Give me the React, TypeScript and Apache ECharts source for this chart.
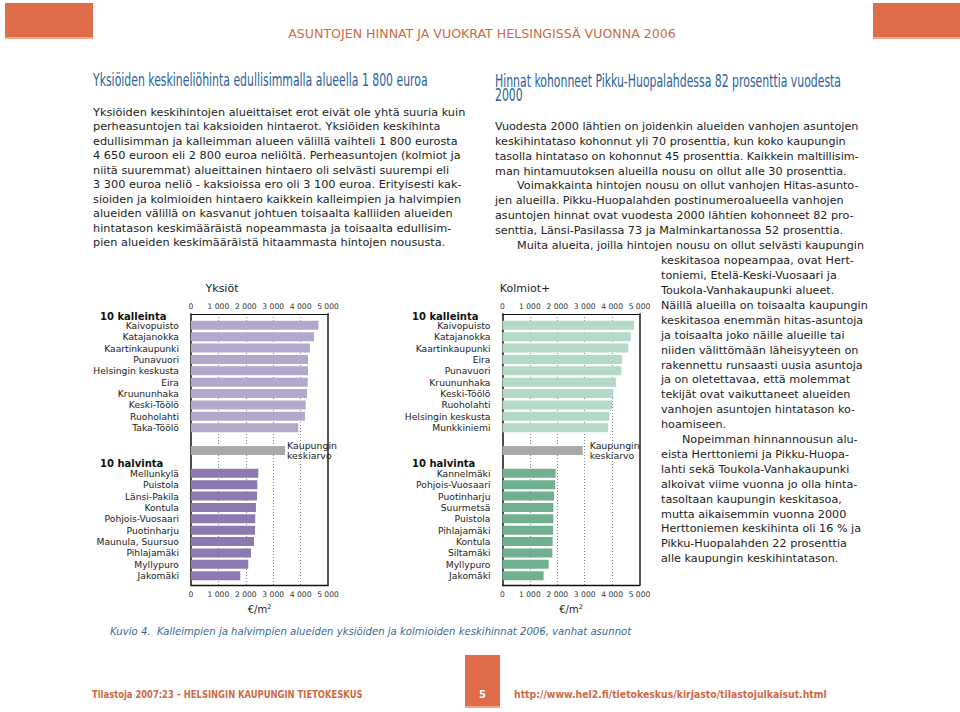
import React, { useEffect, useRef } from 'react';
import * as echarts from 'echarts';

// ---------- DATA ----------
const yksiotKalleinNames = ['Kaivopuisto', 'Katajanokka', 'Kaartinkaupunki', 'Punavuori', 'Helsingin keskusta', 'Eira', 'Kruununhaka', 'Keski-Töölö', 'Ruoholahti', 'Taka-Töölö'];
const yksiotKalleinValues = [4650, 4490, 4340, 4270, 4270, 4260, 4235, 4185, 4160, 3915];
const yksiotHalvinNames = ['Mellunkylä', 'Puistola', 'Länsi-Pakila', 'Kontula', 'Pohjois-Vuosaari', 'Puotinharju', 'Maunula, Suursuo', 'Pihlajamäki', 'Myllypuro', 'Jakomäki'];
const yksiotHalvinValues = [2455, 2420, 2410, 2370, 2345, 2335, 2300, 2190, 2090, 1800];
const yksiotKeskiarvo = 3430;

const kolmiotKalleinNames = ['Kaivopuisto', 'Katajanokka', 'Kaartinkaupunki', 'Eira', 'Punavuori', 'Kruununhaka', 'Keski-Töölö', 'Ruoholahti', 'Helsingin keskusta', 'Munkkiniemi'];
const kolmiotKalleinValues = [4800, 4680, 4590, 4360, 4335, 4140, 4045, 3995, 3900, 3850];
const kolmiotHalvinNames = ['Kannelmäki', 'Pohjois-Vuosaari', 'Puotinharju', 'Suurmetsä', 'Puistola', 'Pihlajamäki', 'Kontula', 'Siltamäki', 'Myllypuro', 'Jakomäki'];
const kolmiotHalvinValues = [1940, 1925, 1880, 1855, 1855, 1845, 1830, 1820, 1685, 1500];
const kolmiotKeskiarvo = 2925;

const axisMin = 0;
const axisMax = 5000;
const axisInterval = 1000;
const avgLabel = 'Kaupungin\nkeskiarvo';
const headerKallein = '10 kalleinta';
const headerHalvin = '10 halvinta';
const unitName = '€/m{s|2}';

const pageTitle = 'ASUNTOJEN HINNAT JA VUOKRAT HELSINGISSÄ VUONNA 2006';
const leftHeading = 'Yksiöiden keskineliöhinta edullisimmalla alueella 1 800 euroa';
const rightHeading = ['Hinnat kohonneet Pikku-Huopalahdessa 82 prosenttia vuodesta', '2000'];
const leftParagraph = [
  'Yksiöiden keskihintojen alueittaiset erot eivät ole yhtä suuria kuin',
  'perheasuntojen tai kaksioiden hintaerot. Yksiöiden keskihinta',
  'edullisimman ja kalleimman alueen välillä vaihteli 1 800 eurosta',
  '4 650 euroon eli 2 800 euroa neliöltä. Perheasuntojen (kolmiot ja',
  'niitä suuremmat) alueittainen hintaero oli selvästi suurempi eli',
  '3 300 euroa neliö - kaksioissa ero oli 3 100 euroa. Erityisesti kak-',
  'sioiden ja kolmioiden hintaero kaikkein kalleimpien ja halvimpien',
  'alueiden välillä on kasvanut johtuen toisaalta kalliiden alueiden',
  'hintatason keskimääräistä nopeammasta ja toisaalta edullisim-',
  'pien alueiden keskimääräistä hitaammasta hintojen noususta.',
];
const rightParagraph1 = [
  'Vuodesta 2000 lähtien on joidenkin alueiden vanhojen asuntojen',
  'keskihintataso kohonnut yli 70 prosenttia, kun koko kaupungin',
  'tasolla hintataso on kohonnut 45 prosenttia. Kaikkein maltillisim-',
  'man hintamuutoksen alueilla nousu on ollut alle 30 prosenttia.',
  'Voimakkainta hintojen nousu on ollut vanhojen Hitas-asunto-',
  'jen alueilla. Pikku-Huopalahden postinumeroalueella vanhojen',
  'asuntojen hinnat ovat vuodesta 2000 lähtien kohonneet 82 pro-',
  'senttia, Länsi-Pasilassa 73 ja Malminkartanossa 52 prosenttia.',
  'Muita alueita, joilla hintojen nousu on ollut selvästi kaupungin',
];
const rightParagraph1Indents = [4, 8];
const rightParagraph2 = [
  'keskitasoa nopeampaa, ovat Hert-',
  'toniemi, Etelä-Keski-Vuosaari ja',
  'Toukola-Vanhakaupunki alueet.',
  'Näillä alueilla on toisaalta kaupungin',
  'keskitasoa enemmän hitas-asuntoja',
  'ja toisaalta joko näille alueille tai',
  'niiden välittömään läheisyyteen on',
  'rakennettu runsaasti uusia asuntoja',
  'ja on oletettavaa, että molemmat',
  'tekijät ovat vaikuttaneet alueiden',
  'vanhojen asuntojen hintatason ko-',
  'hoamiseen.',
  'Nopeimman hinnannousun alu-',
  'eista Herttoniemi ja Pikku-Huopa-',
  'lahti sekä Toukola-Vanhakaupunki',
  'alkoivat viime vuonna jo olla hinta-',
  'tasoltaan kaupungin keskitasoa,',
  'mutta aikaisemmin vuonna 2000',
  'Herttoniemen keskihinta oli 16 % ja',
  'Pikku-Huopalahden 22 prosenttia',
  'alle kaupungin keskihintatason.',
];
const rightParagraph2Indents = [12];
const caption = 'Kuvio 4.  Kalleimpien ja halvimpien alueiden yksiöiden ja kolmioiden keskihinnat 2006, vanhat asunnot';
const footerLeft = 'Tilastoja 2007:23 – HELSINGIN KAUPUNGIN TIETOKESKUS';
const footerPage = '5';
const footerUrl = 'http://www.hel2.fi/tietokeskus/kirjasto/tilastojulkaisut.html';

// ---------- STYLE ----------
const SANS = '"DejaVu Sans", Verdana, sans-serif';
const NARROW = '"Liberation Sans Narrow", "DejaVu Sans Condensed", sans-serif';
const ORANGE = '#e06d4a';
const ORANGE_TEXT = '#cf6a47';
const BLUE = '#2a62a0';

const tickFmt = (v: number) => (v === 0 ? '0' : `${v / 1000} 000`);

type Panel = {
  left: number;
  width: number;
  title: string;
  titleX: number;
  headerX: number;
  kalleinNames: string[];
  kalleinValues: number[];
  halvinNames: string[];
  halvinValues: number[];
  keskiarvo: number;
  topColor: string;
  bottomColor: string;
  avgDist: number;
};

const panels: Panel[] = [
  {
    left: 191, width: 137, title: 'Yksiöt', titleX: 222, headerX: 100,
    kalleinNames: yksiotKalleinNames, kalleinValues: yksiotKalleinValues,
    halvinNames: yksiotHalvinNames, halvinValues: yksiotHalvinValues,
    keskiarvo: yksiotKeskiarvo, topColor: '#b1a8cb', bottomColor: '#8c79b0', avgDist: 2,
  },
  {
    left: 502.5, width: 137, title: 'Kolmiot+', titleX: 525, headerX: 412,
    kalleinNames: kolmiotKalleinNames, kalleinValues: kolmiotKalleinValues,
    halvinNames: kolmiotHalvinNames, halvinValues: kolmiotHalvinValues,
    keskiarvo: kolmiotKeskiarvo, topColor: '#b3d9c7', bottomColor: '#71b08f', avgDist: 7,
  },
];

function buildOption() {
  const grid: any[] = [];
  const xAxis: any[] = [];
  const yAxis: any[] = [];
  const series: any[] = [];
  const graphic: any[] = [];

  const frameTop = 314;
  const frameH = 271;
  const barsTop = 319.6;
  const barsH = 261.8;

  panels.forEach((p, i) => {
    const gFrame = 2 * i;
    const gBars = 2 * i + 1;
    grid.push({ left: p.left, top: frameTop, width: p.width, height: frameH });
    grid.push({ left: p.left, top: barsTop, width: p.width, height: barsH });

    const valueBase = { type: 'value', min: axisMin, max: axisMax, interval: axisInterval };
    xAxis.push({
      ...valueBase, gridIndex: gFrame, position: 'bottom',
      axisLine: { show: true, onZero: false, lineStyle: { color: '#111', width: 1.3 } },
      axisTick: { show: false },
      axisLabel: { fontSize: 7.6, fontFamily: SANS, color: '#333', margin: 5, formatter: tickFmt },
      splitLine: {
        show: true,
        lineStyle: { type: [1, 2], width: 1, color: ['rgba(0,0,0,0)', '#888', '#888', '#888', '#888', 'rgba(0,0,0,0)'] },
      },
      name: unitName, nameLocation: 'middle', nameGap: 18,
      nameTextStyle: { fontSize: 10, fontFamily: SANS, color: '#222', rich: { s: { fontSize: 6.5, fontFamily: SANS, verticalAlign: 'top', padding: [0, 0, 5, 0] } } },
    });
    xAxis.push({
      ...valueBase, gridIndex: gFrame, position: 'top',
      axisLine: { show: true, onZero: false, lineStyle: { color: '#111', width: 1 } },
      axisTick: { show: false },
      axisLabel: { fontSize: 7.6, fontFamily: SANS, color: '#333', margin: 4, formatter: tickFmt },
      splitLine: { show: false },
    });
    xAxis.push({ ...valueBase, gridIndex: gBars, show: false, splitLine: { show: false } });

    yAxis.push({
      type: 'value', min: 0, max: 1, gridIndex: gFrame, position: 'left',
      axisLine: { show: true, onZero: false, lineStyle: { color: '#111', width: 1.5 } },
      axisTick: { show: false }, axisLabel: { show: false }, splitLine: { show: false },
    });
    yAxis.push({
      type: 'value', min: 0, max: 1, gridIndex: gFrame, position: 'right',
      axisLine: { show: true, onZero: false, lineStyle: { color: '#555', width: 2 } },
      axisTick: { show: false }, axisLabel: { show: false }, splitLine: { show: false },
    });
    const cats = [...p.kalleinNames, ' ', '  ', '   ', ...p.halvinNames];
    yAxis.push({
      type: 'category', gridIndex: gBars, inverse: true, data: cats,
      axisLine: { show: false }, axisTick: { show: false },
      axisLabel: { interval: 0, fontSize: 9.2, fontFamily: SANS, color: '#222', margin: 12 },
      splitLine: { show: false },
    });

    const data: any[] = [
      ...p.kalleinValues.map((v) => ({ value: v, itemStyle: { color: p.topColor } })),
      '-',
      {
        value: p.keskiarvo,
        itemStyle: { color: '#a9a9a9' },
        label: {
          show: true, position: 'right', distance: p.avgDist, formatter: avgLabel,
          fontSize: 9.4, lineHeight: 10.5, fontFamily: SANS, color: '#222', align: 'left',
        },
      },
      '-',
      ...p.halvinValues.map((v) => ({ value: v, itemStyle: { color: p.bottomColor } })),
    ];
    series.push({
      type: 'bar', xAxisIndex: 3 * i + 2, yAxisIndex: 3 * i + 2,
      barWidth: 9, data, z: 3,
    });

    graphic.push({
      type: 'text', x: p.titleX, y: 288,
      style: { text: p.title, fontSize: 11, fontFamily: SANS, fill: '#222', align: 'center', verticalAlign: 'middle' },
    });
    graphic.push({
      type: 'text', x: p.headerX, y: 316,
      style: { text: headerKallein, fontSize: 10, fontWeight: 'bold', fontFamily: SANS, fill: '#111', align: 'left', verticalAlign: 'middle' },
    });
    graphic.push({
      type: 'text', x: p.headerX, y: 463,
      style: { text: headerHalvin, fontSize: 10, fontWeight: 'bold', fontFamily: SANS, fill: '#111', align: 'left', verticalAlign: 'middle' },
    });
  });

  const bodyText = (text: string, x: number, y: number, size: number) => ({
    type: 'text', x, y, silent: true,
    style: { text, fontSize: size, fontFamily: SANS, fill: '#222', align: 'left', verticalAlign: 'middle' },
  });

  leftParagraph.forEach((t, k) => graphic.push(bodyText(t, 93, 112.3 + k * 14.5, 11.3)));
  rightParagraph1.forEach((t, k) =>
    graphic.push(bodyText(t, rightParagraph1Indents.includes(k) ? 517 : 495, 126.7 + k * 14.8, 11.2)));
  rightParagraph2.forEach((t, k) =>
    graphic.push(bodyText(t, rightParagraph2Indents.includes(k) ? 682 : 661, 260.7 + k * 14.9, 11.2)));

  // headings
  graphic.push({
    type: 'text', x: 93, y: 80, scaleY: 1.4,
    style: { text: leftHeading, fontSize: 12.1, fontFamily: NARROW, fill: BLUE, align: 'left', verticalAlign: 'middle' },
  });
  rightHeading.forEach((t, k) => graphic.push({
    type: 'text', x: 495, y: 80.7 + k * 14, scaleY: 1.4,
    style: { text: t, fontSize: 12.1, fontFamily: NARROW, fill: BLUE, align: 'left', verticalAlign: 'middle' },
  }));

  // page decoration
  graphic.push({ type: 'rect', shape: { x: 5, y: 3, width: 88, height: 35 }, style: { fill: ORANGE } });
  graphic.push({ type: 'rect', shape: { x: 5, y: 37, width: 88, height: 2 }, style: { fill: '#eea58c' } });
  graphic.push({ type: 'rect', shape: { x: 873, y: 3, width: 87, height: 35 }, style: { fill: ORANGE } });
  graphic.push({ type: 'rect', shape: { x: 873, y: 37, width: 87, height: 2 }, style: { fill: '#eea58c' } });
  graphic.push({
    type: 'text', x: 482, y: 34, scaleX: 1.12,
    style: { text: pageTitle, fontSize: 12.5, fontFamily: NARROW, fill: ORANGE_TEXT, align: 'center', verticalAlign: 'middle' },
  });

  graphic.push({
    type: 'text', x: 110, y: 631.5,
    style: { text: caption, fontSize: 10.1, fontStyle: 'italic', fontFamily: SANS, fill: '#3a6794', align: 'left', verticalAlign: 'middle' },
  });

  graphic.push({ type: 'rect', shape: { x: 465, y: 655, width: 35, height: 52 }, style: { fill: ORANGE } });
  graphic.push({ type: 'rect', shape: { x: 465, y: 706, width: 35, height: 2 }, style: { fill: '#eea58c' } });
  graphic.push({
    type: 'text', x: 482.5, y: 694,
    style: { text: footerPage, fontSize: 11, fontWeight: 'bold', fontFamily: NARROW, fill: '#fff', align: 'center', verticalAlign: 'middle' },
  });
  graphic.push({
    type: 'text', x: 92, y: 694, scaleX: 0.85,
    style: { text: footerLeft, fontSize: 11, fontWeight: 'bold', fontFamily: NARROW, fill: ORANGE_TEXT, align: 'left', verticalAlign: 'middle' },
  });
  graphic.push({
    type: 'text', x: 514, y: 694, scaleX: 0.945,
    style: { text: footerUrl, fontSize: 11, fontWeight: 'bold', fontFamily: NARROW, fill: ORANGE_TEXT, align: 'left', verticalAlign: 'middle' },
  });

  return {
    animation: false,
    backgroundColor: '#ffffff',
    grid,
    xAxis,
    yAxis,
    series,
    graphic,
  };
}

export default function App() {
  const ref = useRef<HTMLDivElement>(null);
  useEffect(() => {
    document.body.style.margin = '0';
    const chart = echarts.init(ref.current as HTMLDivElement, undefined, { renderer: 'svg' });
    chart.setOption(buildOption() as any);
    return () => chart.dispose();
  }, []);
  return <div ref={ref} style={{ width: 960, height: 712 }} />;
}
